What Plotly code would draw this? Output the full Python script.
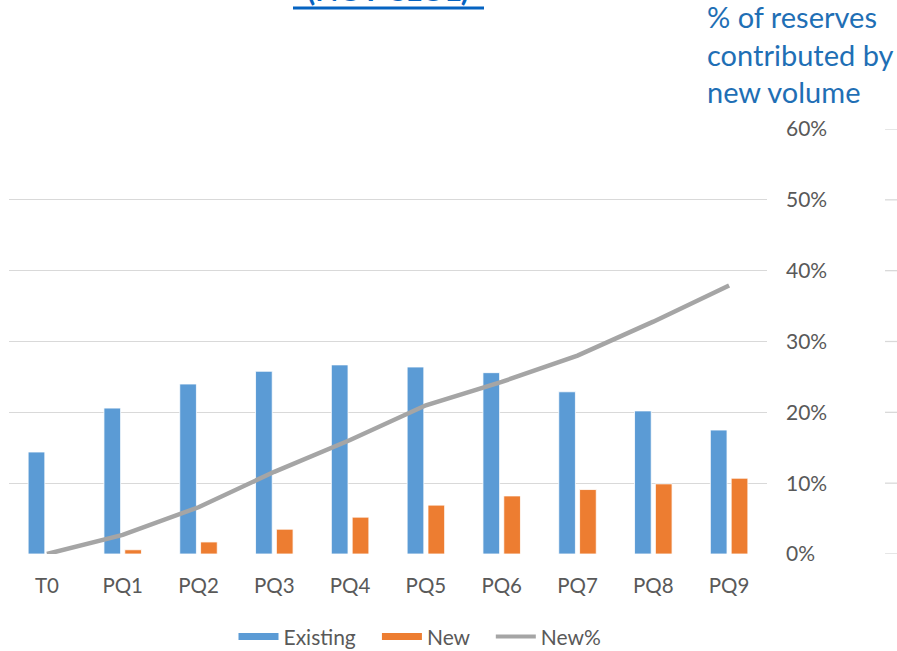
import plotly.graph_objects as go

# Quarterly reserves: existing vs. new volume, and share contributed by new volume
categories = ["T0", "PQ1", "PQ2", "PQ3", "PQ4", "PQ5", "PQ6", "PQ7", "PQ8", "PQ9"]
existing = [14.4, 20.6, 24.0, 25.8, 26.7, 26.4, 25.6, 22.9, 20.2, 17.5]
new = [0.0, 0.6, 1.7, 3.5, 5.2, 6.9, 8.2, 9.1, 9.9, 10.7]
new_pct = [0.0, 0.027, 0.066, 0.116, 0.161, 0.210, 0.243, 0.280, 0.328, 0.379]
pct_ticks = [0, 0.1, 0.2, 0.3, 0.4, 0.5, 0.6]

BLUE = "#5B9BD5"
ORANGE = "#ED7D31"
GREY = "#A5A5A5"
TEXT = "#595959"
GRID = "#D9D9D9"
FONT = "Lato, Carlito, Calibri, sans-serif"
GAP = "\u00a0\u00a0\u00a0"

fig = go.Figure()

fig.add_trace(go.Bar(
    x=categories, y=existing, name="Existing", yaxis="y",
    marker=dict(color=BLUE, line=dict(color="white", width=0.8)),
    showlegend=False,
))
fig.add_trace(go.Bar(
    x=categories, y=new, name="New", yaxis="y",
    marker=dict(color=ORANGE, line=dict(color="white", width=0.8)),
    showlegend=False,
))
fig.add_trace(go.Scatter(
    x=categories, y=new_pct, name="New%", yaxis="y2", mode="lines",
    line=dict(color=GREY, width=4.5), showlegend=False,
))

# Legend entries drawn as wide strokes
for name, color, w in [("Existing" + GAP, BLUE, 7), ("New" + GAP, ORANGE, 7), ("New%", GREY, 4)]:
    fig.add_trace(go.Scatter(
        x=[None], y=[None], mode="lines", name=name,
        line=dict(color=color, width=w), yaxis="y2",
    ))

# Gridline stubs continuing past the right-hand labels
shapes = [
    dict(type="line", xref="paper", yref="y2", x0=1.1557, x1=1.19, y0=t, y1=t,
         line=dict(color=GRID, width=1.3), layer="below")
    for t in pct_ticks
]
# Underline of the clipped heading
shapes.append(dict(type="line", xref="paper", yref="paper",
                   x0=(293 - 9) / 758, x1=(484 - 9) / 758,
                   y0=1 + (129 - 8) / 425, y1=1 + (129 - 8) / 425,
                   line=dict(color="#0563C1", width=3)))

fig.update_layout(
    width=897, height=651,
    margin=dict(l=9, r=130, t=129, b=97, autoexpand=False),
    paper_bgcolor="white", plot_bgcolor="white",
    font=dict(family=FONT, color=TEXT, size=20),
    barmode="group", bargap=0.45, bargroupgap=0.2,
    xaxis=dict(
        type="category", showgrid=False, showline=False, zeroline=False,
        ticks="", tickfont=dict(size=20.5, color=TEXT, family=FONT),
        ticklabelstandoff=17,
    ),
    yaxis=dict(
        range=[0, 60], visible=False, showgrid=False, zeroline=False,
    ),
    yaxis2=dict(
        range=[0, 0.6], overlaying="y", side="right", anchor="x",
        tickvals=pct_ticks, tickformat=".0%",
        showgrid=True, gridcolor=GRID, gridwidth=1.3,
        zeroline=False, showline=False, ticks="",
        tickfont=dict(size=21, color=TEXT, family=FONT),
        ticklabelstandoff=18,
    ),
    legend=dict(
        orientation="h", x=(420 - 9) / 758, xanchor="center", y=-0.195, yanchor="middle",
        font=dict(size=21, color=TEXT, family=FONT),
        itemwidth=40, traceorder="normal", bgcolor="rgba(0,0,0,0)",
    ),
    shapes=shapes,
    annotations=[
        dict(text="% of reserves<br>contributed by<br>new volume",
             xref="paper", yref="paper", x=(705 - 9) / 758, y=1 + (129 - 111) / 425,
             xanchor="left", yanchor="bottom", align="left", showarrow=False,
             font=dict(size=29, color="#1F6FB5", family=FONT)),
        dict(text="<b>(NOT CLOL)</b>",
             xref="paper", yref="paper", x=(388 - 9) / 758, y=1 + (129 - 9.5) / 425,
             xanchor="center", yanchor="bottom", showarrow=False,
             font=dict(size=30, color="#0563C1", family=FONT)),
    ],
)

fig.write_html("out.html")
